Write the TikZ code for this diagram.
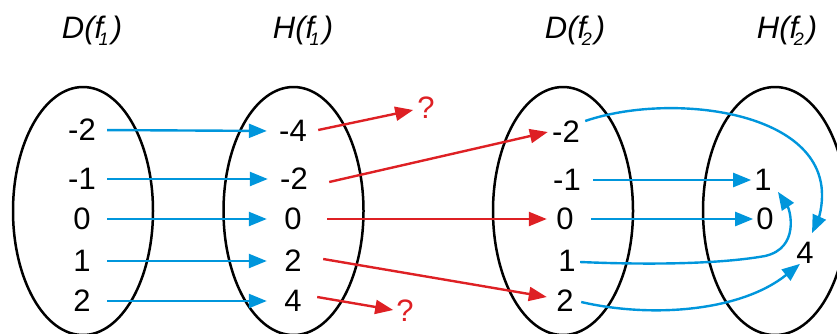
\documentclass[tikz,border=0pt]{standalone}
\usepackage{fontspec}
\setmainfont{Liberation Sans}
\usetikzlibrary{arrows.meta,shapes.geometric,calc}
\definecolor{fblue}{RGB}{0,150,220}
\definecolor{fred}{RGB}{222,32,36}
\tikzset{
  setshape/.style={draw=black, line width=2.5pt, ellipse, inner sep=0pt, minimum width=140pt, minimum height=248pt},
  num/.style={inner sep=0pt, minimum width=30pt, font=\fontsize{31pt}{36pt}\selectfont},
  numn/.style={inner sep=0pt, font=\fontsize{31pt}{36pt}\selectfont},
  qm/.style={inner sep=0pt, text=fred, font=\fontsize{31pt}{36pt}\selectfont},
  ttl/.style={inner sep=0pt, anchor=base, font=\fontsize{31pt}{36pt}\selectfont\itshape},
  bl/.style={draw=fblue, line width=2.4pt, -{Triangle[length=18pt,width=14pt]}},
  rd/.style={draw=fred, line width=2.4pt, -{Triangle[length=18pt,width=14pt]}},
}
\newcommand{\subidx}[1]{\kern-4.5pt\raisebox{-7pt}{\fontsize{18pt}{18pt}\selectfont #1}\kern3pt}
\begin{document}
\begin{tikzpicture}[x=1pt,y=-1pt]
\useasboundingbox (0,0) rectangle (837,333);
\clip (0,0) rectangle (837,333);
% sets
\node[setshape] (E1) at (83,211) {};
\node[setshape] (E2) at (293.5,211) {};
\node[setshape] (E3) at (563,211) {};
\node[setshape, minimum width=144pt] (E4) at (775,211) {};
% titles
\node[ttl] (T1) at (92,38) {D(f\subidx{1})};
\node[ttl] (T2) at (303,38) {H(f\subidx{1})};
\node[ttl] (T3) at (575,38) {D(f\subidx{2})};
\node[ttl] (T4) at (787,38) {H(f\subidx{2})};
% column 1
\node[num] (a1) at (82,130) {-2};
\node[num] (a2) at (82,179) {-1};
\node[num] (a3) at (82,219) {0};
\node[num] (a4) at (82,261) {1};
\node[num] (a5) at (82,301) {2};
% column 2
\node[num] (b1) at (293,131) {-4};
\node[num] (b2) at (294,179) {-2};
\node[num] (b3) at (293,219) {0};
\node[num] (b4) at (293,261) {2};
\node[num] (b5) at (293,301) {4};
% column 3
\node[num] (c1) at (566,132) {-2};
\node[num] (c2) at (567,180) {-1};
\node[num] (c3) at (565,219) {0};
\node[num] (c4) at (567,261) {1};
\node[num] (c5) at (565,301) {2};
% column 4
\node[numn] (d1) at (763,180) {1};
\node[numn] (d2) at (765,219) {0};
\node[numn] (d4) at (805,253) {4};
% question marks
\node[qm] (q1) at (426,108) {?};
\node[qm] (q2) at (405,311) {?};
% f1 arrows
\foreach \i in {1,...,5}{
  \draw[bl, shorten <=10pt, shorten >=11pt] (a\i.east) -- (b\i.west);
}
% red arrows
\draw[rd] ($(b1.east)+(10,-1)$) -- ($(q1.west)+(-4,2)$);
\draw[rd] ($(b2.east)+(20,3)$) -- ($(c1.west)+(-3,0)$);
\draw[rd, shorten <=19pt, shorten >=3pt] (b3.east) -- (c3.west);
\draw[rd] ($(b4.east)+(15,-2)$) -- ($(c5.west)+(-3,-4)$);
\draw[rd] ($(b5.east)+(9,-4)$) -- ($(q2.west)+(-3,-1)$);
% f2 arrows
\draw[bl, shorten <=11pt, shorten >=3pt] (c2.east) -- (d1.west);
\draw[bl, shorten <=11pt, shorten >=3pt] (c3.east) -- (d2.west);
\draw[bl] ($(c1.east)+(4,-11)$) .. controls (670,92) and (822,110) .. (822,195)
  .. controls (822,212) and (817,222) .. ($(d4.north)+(7,-9)$);
\draw[bl] ($(c4.east)+(-2,1)$) .. controls (650,265) and (720,264) .. (765,256)
  .. controls (800,248) and (790,210) .. ($(d1.south)+(15,1)$);
\draw[bl] ($(c5.east)+(1,1)$) .. controls (650,318) and (740,312) .. ($(d4.south)+(-5,0)$);
\end{tikzpicture}
\end{document}
